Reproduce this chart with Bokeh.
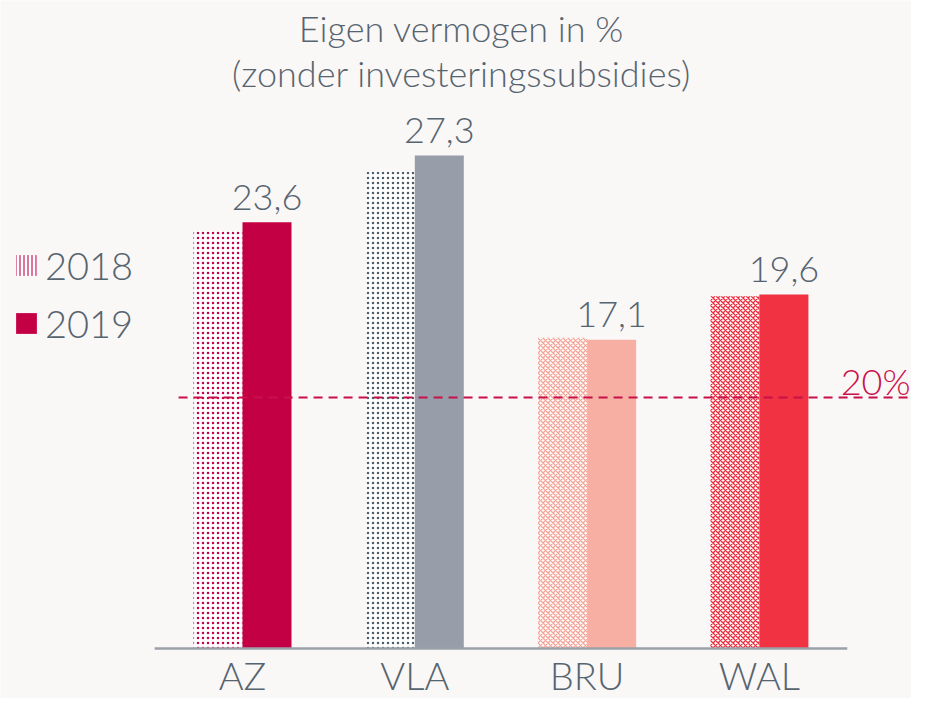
from bokeh.plotting import figure
from bokeh.models import ColumnDataSource, Range1d, Label, Legend, LegendItem
from bokeh.embed import file_html
from bokeh.resources import INLINE
from bokeh.core.properties import value

# ---- data ----
categories = ["AZ", "VLA", "BRU", "WAL"]
values_2018 = [23.1, 26.4, 17.2, 19.5]
values_2019 = [23.6, 27.3, 17.1, 19.6]
colors_2019 = ["#c40045", "#979ea9", "#f7aea3", "#f03242"]
colors_2018 = ["#c8004a", "#4e5c69", "#f4a396", "#ee2a3c"]
patterns_2018 = ["dot", "dot", "diagonal_cross", "diagonal_cross"]
series_labels = ["2018", "2019"]
threshold_value = 13.9
threshold_label = "20%"
title_lines = ["Eigen vermogen in %", "(zonder investeringssubsidies)"]

FONT = "Lato Light"
TEXT = "#56646f"
BG = "#faf7f7"

W, H = 911, 698
n = len(categories)
group_px = 172.3
left_px = 242.0
base_px = H - 648.0
ppu = 18.06

p = figure(width=W, height=H, output_backend="svg", toolbar_location=None,
           x_range=Range1d(-left_px / group_px, (W - left_px) / group_px),
           y_range=Range1d(-base_px / ppu, (H - base_px) / ppu),
           min_border=0)
p.axis.visible = False
p.grid.visible = False
p.outline_line_color = None
p.background_fill_color = BG
p.border_fill_color = BG

bw = 49 / group_px
xs = list(range(n))
src18 = ColumnDataSource(dict(x=[i - bw / 2 for i in xs], top=values_2018,
                              hc=colors_2018, hp=patterns_2018))
src19 = ColumnDataSource(dict(x=[i + bw / 2 for i in xs], top=values_2019,
                              fc=colors_2019,
                              lbl=[f"{v:.1f}".replace(".", ",") for v in values_2019]))

p.vbar(x="x", top="top", bottom=0, width=bw, source=src18,
       fill_color="white", line_color=None,
       hatch_pattern="hp", hatch_color="hc", hatch_scale=5, hatch_weight=1.3)
p.vbar(x="x", top="top", bottom=0, width=bw, source=src19,
       fill_color="fc", line_color=None)

# value labels
p.text(x="x", y="top", text="lbl", source=src19, text_align="center",
       text_baseline="middle", y_offset=-25,
       text_font=value(FONT), text_font_size="36px", text_color=TEXT)

# baseline
p.segment(x0=[-0.51], x1=[n - 0.49], y0=[0], y1=[0], line_color="#9ba1a9", line_width=2.5)

# threshold dashed line
p.segment(x0=[-0.371], x1=[p.x_range.end], y0=[threshold_value], y1=[threshold_value],
          line_color="#c8104a", line_width=2, line_dash="9 6")
p.add_layout(Label(x=W - 1, y=threshold_value, x_units="screen", text=threshold_label,
                   text_align="right", text_baseline="middle", y_offset=16,
                   text_font=FONT, text_font_size="36px", text_color="#c8104a"))

# category labels
p.text(x=xs, y=[p.y_range.start] * n, text=categories, text_align="center",
       text_baseline="bottom", y_offset=-1,
       text_font=value(FONT), text_font_size="38px", text_color=TEXT)

# title
for t, yb in zip(title_lines, [671, 626]):
    p.add_layout(Label(x=461, y=yb, x_units="screen", y_units="screen", text=t,
                       text_align="center", text_baseline="middle",
                       text_font=FONT, text_font_size="36px", text_color=TEXT))

# legend (off-screen proxy glyphs)
r18 = p.vbar(x=[-100], top=[-100], bottom=[-101], width=1, fill_color="white", line_color=None,
             hatch_pattern="vertical_line", hatch_color="#d2457a", hatch_scale=4, hatch_weight=1.5)
r19 = p.vbar(x=[-100], top=[-100], bottom=[-101], width=1, fill_color="#c40045", line_color=None)
leg = Legend(items=[LegendItem(label=series_labels[0], renderers=[r18]),
                    LegendItem(label=series_labels[1], renderers=[r19])],
             location=(13, 352), glyph_width=26, glyph_height=26,
             label_text_font=FONT, label_text_font_size="38px", label_text_color=TEXT,
             label_standoff=6, spacing=12, padding=0, margin=0,
             background_fill_alpha=0, border_line_color=None)
p.add_layout(leg, "center")

open("out.html", "w").write(file_html(p, INLINE))
